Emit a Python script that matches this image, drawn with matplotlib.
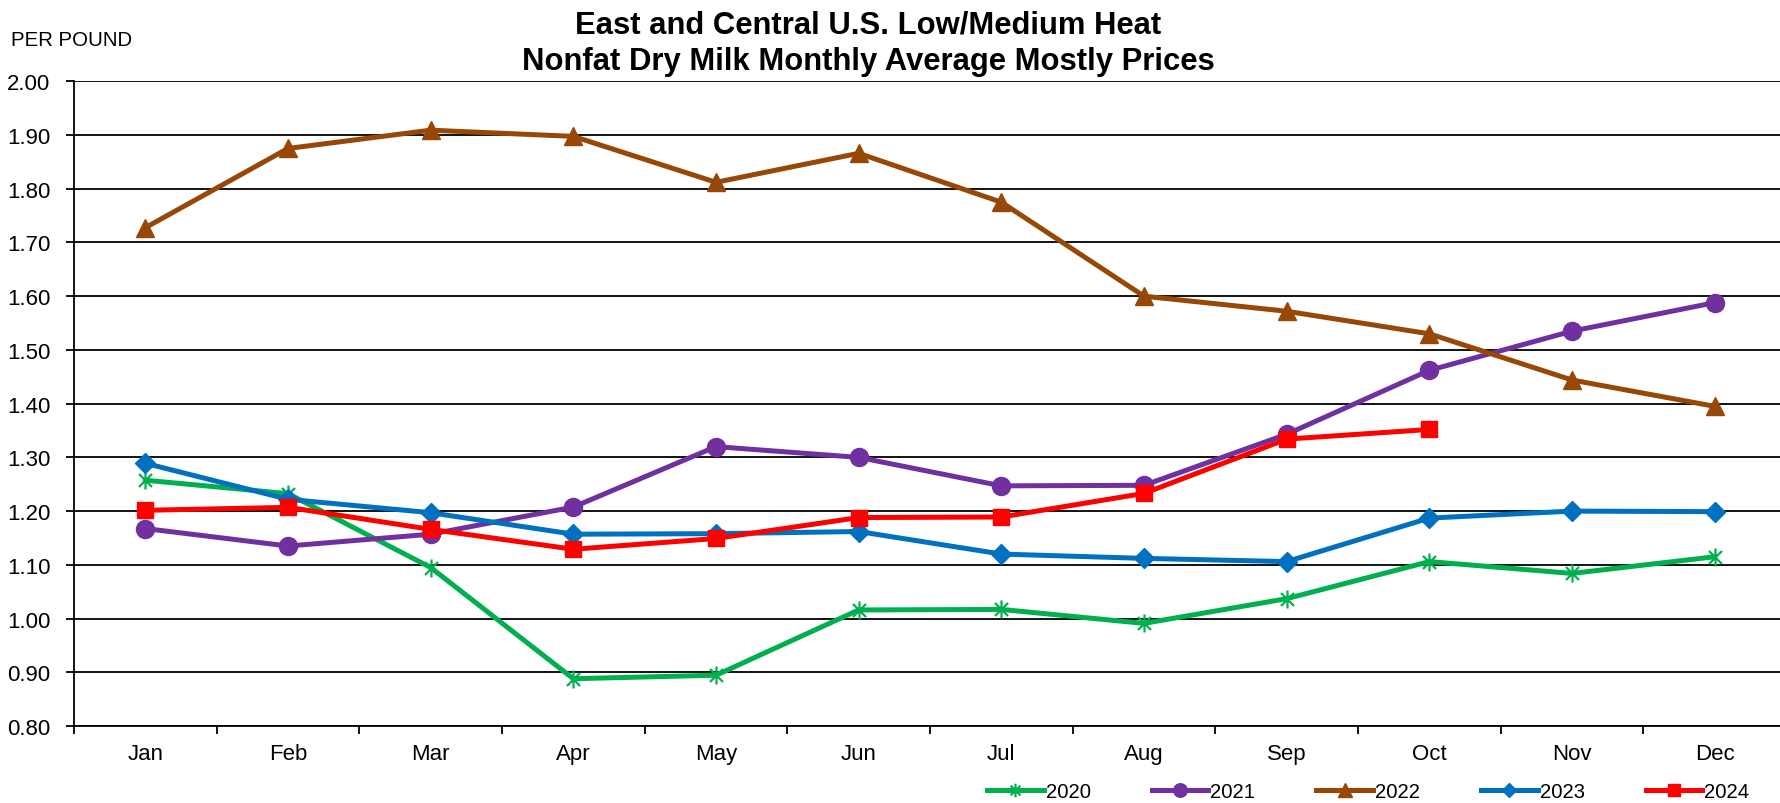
import matplotlib
matplotlib.use("Agg")
import matplotlib.pyplot as plt
from matplotlib.path import Path
import numpy as np

months = ["Jan", "Feb", "Mar", "Apr", "May", "Jun", "Jul", "Aug", "Sep", "Oct", "Nov", "Dec"]
y2020 = [1.2575, 1.2325, 1.095, 0.888, 0.8945, 1.016, 1.017, 0.991, 1.037, 1.106, 1.084, 1.115]
y2021 = [1.1675, 1.135, 1.157, 1.2075, 1.320, 1.300, 1.247, 1.248, 1.343, 1.462, 1.535, 1.588]
y2022 = [1.7275, 1.875, 1.909, 1.8975, 1.812, 1.866, 1.775, 1.600, 1.572, 1.530, 1.444, 1.395]
y2023 = [1.289, 1.222, 1.197, 1.157, 1.158, 1.162, 1.120, 1.112, 1.106, 1.187, 1.200, 1.199]
y2024 = [1.2015, 1.207, 1.166, 1.129, 1.149, 1.188, 1.189, 1.233, 1.334, 1.352]
years = ["2020", "2021", "2022", "2023", "2024"]
yticks = [0.80, 0.90, 1.00, 1.10, 1.20, 1.30, 1.40, 1.50, 1.60, 1.70, 1.80, 1.90, 2.00]

plt.rcParams['font.family'] = ['Liberation Sans', 'DejaVu Sans']

fig = plt.figure(figsize=(17.8, 8.04), dpi=100)
ax = fig.add_axes([74 / 1780, 77 / 804, 1712 / 1780, (727 - 82.3) / 804])

# Excel-style star: X plus vertical bar
star = Path([(0, -1), (0, 1), (-0.72, -0.72), (0.72, 0.72), (-0.72, 0.72), (0.72, -0.72)],
            [Path.MOVETO, Path.LINETO, Path.MOVETO, Path.LINETO, Path.MOVETO, Path.LINETO])

x = np.arange(len(months))
series = [
    (y2020, "#00B050", star, 13, dict(markeredgewidth=1.6, markerfacecolor="none")),
    (y2021, "#7030A0", "o", 13, {}),
    (y2022, "#974706", "^", 13, {}),
    (y2023, "#0070C0", "D", 10, {}),
    (y2024, "#FF0000", "s", 12, {}),
]
for (vals, col, mk, ms, kw), lab in zip(series, years):
    ax.plot(x[:len(vals)], vals, color=col, lw=3.6, marker=mk, markersize=ms,
            markeredgecolor=col, markerfacecolor=kw.get("markerfacecolor", col),
            markeredgewidth=kw.get("markeredgewidth", 1.0), label=lab, zorder=3,
            solid_joinstyle="round")

ax.set_xlim(-0.5, 11.5)
ax.set_ylim(0.80, 2.00)
ax.set_yticks(yticks)
ax.set_yticklabels([f"{v:.2f}" for v in yticks], fontsize=16)
ax.yaxis.grid(True, color="black", lw=1.3)
ax.set_axisbelow(True)

ax.set_xticks(x)
ax.set_xticklabels(months, fontsize=16)
ax.set_xticks(np.arange(-0.5, 12.0, 1.0), minor=True)
ax.tick_params(axis="x", which="major", length=0, pad=12)
ax.tick_params(axis="x", which="minor", length=6, width=1.3, direction="out")
ax.tick_params(axis="y", length=6, width=1.3, direction="out", pad=11)

for s in ["top", "right"]:
    ax.spines[s].set_visible(False)
for s in ["left", "bottom"]:
    ax.spines[s].set_linewidth(1.3)
    ax.spines[s].set_color("black")

fig.text(868 / 1780, 1 - 25 / 804, "East and Central U.S. Low/Medium Heat",
         ha="center", va="center", fontsize=22.3, fontweight="bold")
fig.text(868 / 1780, 1 - 62 / 804, "Nonfat Dry Milk Monthly Average Mostly Prices",
         ha="center", va="center", fontsize=22.3, fontweight="bold")
fig.text(11 / 1780, 1 - 40 / 804, "PER POUND", ha="left", va="center", fontsize=14.7)

handles, labels = ax.get_legend_handles_labels()
leg = fig.legend(handles, labels, ncol=5, loc="center left",
                 bbox_to_anchor=(987 / 1780, 1 - 793 / 804), frameon=False,
                 fontsize=14.6, handlelength=2.8, handletextpad=0.1,
                 columnspacing=3.0, borderpad=0, borderaxespad=0, markerscale=0.75)

fig.savefig("out.png", dpi=100)
